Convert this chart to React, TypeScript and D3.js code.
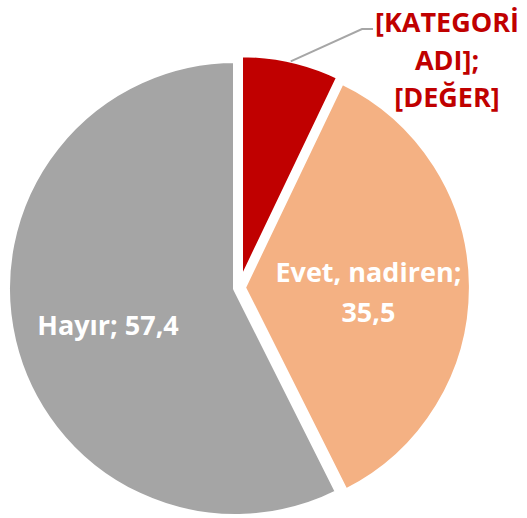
import React from "react";
import * as d3 from "d3";

const categories = ["[KATEGORİ ADI]", "Evet, nadiren", "Hayır"];
const values = [7.1, 35.5, 57.4];
const colors = ["#C00000", "#F4B183", "#A5A5A5"];
const explode = [5, 4, 4];
const labelRadius = [0, 125, 131];

const W = 527;
const H = 518;
const CX = 239.4;
const CY = 287.6;
const R = 228;
const FONT = "'Open Sans', 'Noto Sans', sans-serif";

export default function App() {
  const pie = d3
    .pie<number>()
    .sort(null)
    .startAngle(0)
    .endAngle(2 * Math.PI)
    .value((d) => d);
  const arcs = pie(values);
  const arc = d3.arc<d3.PieArcDatum<number>>().innerRadius(0).outerRadius(R);
  const labelPos = (i: number) =>
    d3
      .arc<d3.PieArcDatum<number>>()
      .innerRadius(labelRadius[i])
      .outerRadius(labelRadius[i])
      .centroid(arcs[i]);

  const offs = arcs.map((a, i) => {
    const m = (a.startAngle + a.endAngle) / 2;
    return [Math.sin(m) * explode[i], -Math.cos(m) * explode[i]];
  });

  // leader line for the first slice
  const a0 = arcs[0];
  const m0 = (a0.startAngle + a0.endAngle) / 2;
  const lr = R - 1;
  const p0 = [CX + offs[0][0] + Math.sin(m0) * lr, CY + offs[0][1] - Math.cos(m0) * lr];
  const p1 = [362, 29];
  const p2 = [373, 29];

  const cOrange = labelPos(1);
  const cGray = labelPos(2);

  return (
    <svg
      width={W}
      height={H}
      style={{ position: "absolute", left: 0, top: 0, background: "#fff" }}
    >
      <g transform={`translate(${CX},${CY})`}>
        {arcs.map((a, i) => (
          <path
            key={i}
            d={arc(a) || ""}
            transform={`translate(${offs[i][0]},${offs[i][1]})`}
            fill={colors[i]}
            stroke="#fff"
            strokeWidth={5}
            strokeLinejoin="round"
          />
        ))}
      </g>
      <polyline
        points={[p0, p1, p2].map((p) => p.join(",")).join(" ")}
        fill="none"
        stroke="#A6A6A6"
        strokeWidth={2}
      />
      <g fontFamily={FONT} fontWeight="bold" fontSize={27} textAnchor="middle">
        <text fill="#fff" x={CX + offs[2][0] + cGray[0]} y={335}>
          {`${categories[2]}; ${String(values[2]).replace(".", ",")}`}
        </text>
        <text fill="#fff" x={CX + offs[1][0] + cOrange[0]} y={282}>
          {`${categories[1]};`}
        </text>
        <text fill="#fff" x={CX + offs[1][0] + cOrange[0]} y={322}>
          {String(values[1]).replace(".", ",")}
        </text>
        <text fill="#C00000" x={447} y={32}>[KATEGORİ</text>
        <text fill="#C00000" x={447} y={70}>ADI];</text>
        <text fill="#C00000" x={447} y={107}>[DEĞER]</text>
      </g>
    </svg>
  );
}
